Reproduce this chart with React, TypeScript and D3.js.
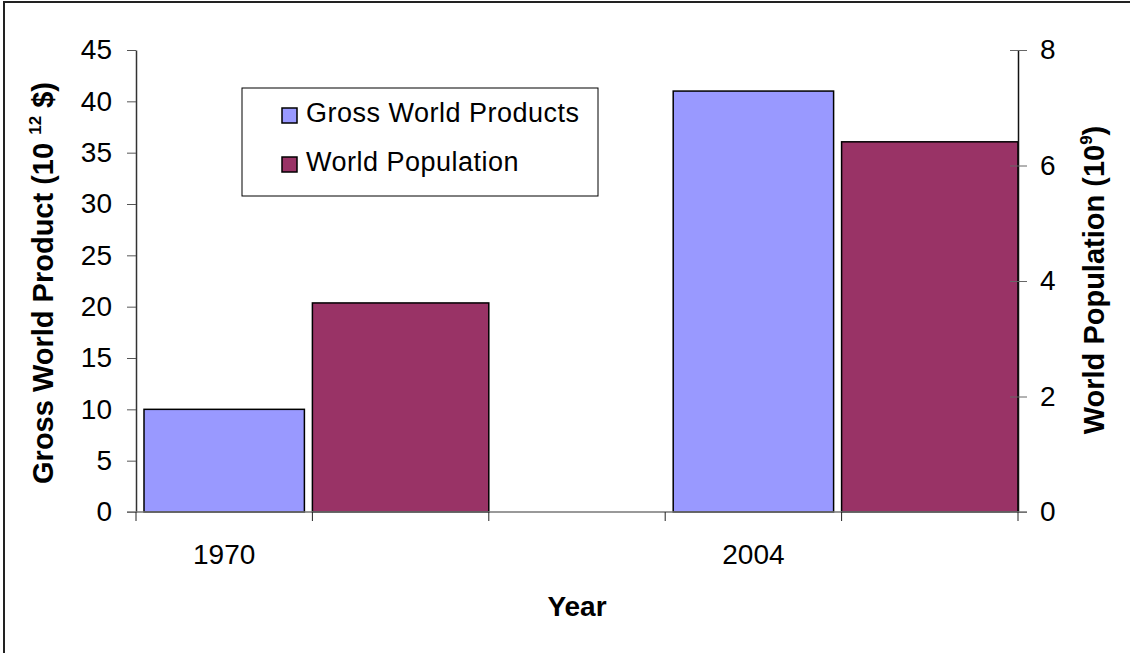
import React, { useEffect, useRef } from 'react';
import * as d3 from 'd3';

// values
const years = ['1970', '2004'];
const grossWorldProduct = [10, 41];
const worldPopulation = [3.62, 6.41];
const gwpTicks = [0, 5, 10, 15, 20, 25, 30, 35, 40, 45];
const popTicks = [0, 2, 4, 6, 8];
const legendLabels = ['Gross World Products', 'World Population'];
const colors = ['#9999FF', '#993366'];

export default function App() {
  const ref = useRef<SVGSVGElement | null>(null);

  useEffect(() => {
    const el = ref.current;
    if (!el) return;
    const svg = d3.select(el);
    svg.selectAll('*').remove();

    const width = 1130;
    const height = 653;
    const font = 'Arial, "Liberation Sans", sans-serif';
    const left = 136, right = 1018, top = 50, bottom = 512;

    // outer frame: only the top and left edges show in the picture
    svg.append('rect').attr('width', width).attr('height', height).attr('fill', '#fff');
    svg.append('path').attr('d', `M4,${height} V2 H${width}`)
      .attr('fill', 'none').attr('stroke', '#222').attr('stroke-width', 2);

    const y = d3.scaleLinear().domain([0, 45]).range([bottom, top]);
    const y2 = d3.scaleLinear().domain([0, 8]).range([bottom, top]);

    // every year gets three slots (gwp, population, gap), the last one no gap
    const slotKeys = years.flatMap((yr, i) =>
      i < years.length - 1 ? [`${yr}|gwp`, `${yr}|pop`, `${yr}|gap`] : [`${yr}|gwp`, `${yr}|pop`]);
    const x = d3.scaleBand().domain(slotKeys).range([left, right]).padding(0);
    const inset = 8;

    // bars
    years.forEach((yr, i) => {
      const gx = x(`${yr}|gwp`)!;
      svg.append('rect')
        .attr('x', gx + inset).attr('y', y(grossWorldProduct[i]))
        .attr('width', x.bandwidth() - 2 * inset).attr('height', bottom - y(grossWorldProduct[i]))
        .attr('fill', colors[0]).attr('stroke', '#000').attr('stroke-width', 1.5);
      const px = x(`${yr}|pop`)!;
      svg.append('rect')
        .attr('x', px).attr('y', y2(worldPopulation[i]))
        .attr('width', x.bandwidth()).attr('height', bottom - y2(worldPopulation[i]))
        .attr('fill', colors[1]).attr('stroke', '#000').attr('stroke-width', 1.5);
    });

    // left axis
    const la = svg.append('g').attr('transform', `translate(${left},0)`)
      .call(d3.axisLeft(y).tickValues(gwpTicks).tickSize(9).tickPadding(15).tickSizeOuter(0));
    la.select('.domain').attr('stroke', '#333').attr('stroke-width', 1.5);
    la.selectAll('.tick line').attr('stroke', '#555');
    la.selectAll('text').attr('font-family', font).attr('font-size', 28).attr('fill', '#000');

    // right axis, ticks cross the line
    const ra = svg.append('g').attr('transform', `translate(${right},0)`)
      .call(d3.axisRight(y2).tickValues(popTicks).tickSize(9).tickPadding(13).tickSizeOuter(0));
    ra.select('.domain').attr('stroke', '#111').attr('stroke-width', 1.5);
    ra.selectAll('.tick line').attr('x1', -8).attr('stroke', '#666');
    ra.selectAll('text').attr('font-family', font).attr('font-size', 28).attr('fill', '#000');

    // bottom axis
    svg.append('line').attr('x1', left - 9).attr('x2', right + 9)
      .attr('y1', bottom).attr('y2', bottom).attr('stroke', '#777').attr('stroke-width', 1.5);
    const bounds = [...slotKeys.map(k => x(k)!), right];
    svg.selectAll('.xtick').data(bounds).enter().append('line')
      .attr('x1', d => d).attr('x2', d => d).attr('y1', bottom).attr('y2', bottom + 9)
      .attr('stroke', '#222');
    svg.selectAll('.ylab').data(years).enter().append('text')
      .attr('x', d => x(`${d}|gwp`)! + x.bandwidth() / 2).attr('y', 564)
      .attr('text-anchor', 'middle').attr('font-family', font).attr('font-size', 28)
      .text(d => d);

    // axis titles
    svg.append('text').attr('x', 577).attr('y', 616).attr('text-anchor', 'middle')
      .attr('font-family', font).attr('font-size', 28).attr('font-weight', 'bold')
      .text('Year');

    const lt = svg.append('text').attr('transform', `translate(53,283) rotate(-90)`)
      .attr('text-anchor', 'middle').attr('font-family', font).attr('font-size', 29)
      .attr('font-weight', 'bold');
    lt.append('tspan').text('Gross World Product (10 ');
    lt.append('tspan').attr('font-size', 17).attr('dy', -12).text('12');
    lt.append('tspan').attr('dy', 12).text(' $)');

    const rt = svg.append('text').attr('transform', `translate(1104,280) rotate(-90)`)
      .attr('text-anchor', 'middle').attr('font-family', font).attr('font-size', 29)
      .attr('font-weight', 'bold');
    rt.append('tspan').text('World Population (10');
    rt.append('tspan').attr('font-size', 17).attr('dy', -12).text('9');
    rt.append('tspan').attr('dy', 12).text(')');

    // legend
    const lg = svg.append('g').attr('transform', 'translate(242,88)');
    lg.append('rect').attr('width', 356).attr('height', 108)
      .attr('fill', '#fff').attr('stroke', '#000').attr('stroke-width', 1);
    legendLabels.forEach((lab, i) => {
      const row = lg.append('g').attr('transform', `translate(40,${20 + i * 49})`);
      row.append('rect').attr('width', 15).attr('height', 15)
        .attr('fill', colors[i]).attr('stroke', '#000').attr('stroke-width', 1.5);
      row.append('text').attr('x', 24).attr('y', 14).attr('font-family', font)
        .attr('font-size', 27).attr('letter-spacing', 0.5).text(lab);
    });
  }, []);

  return (
    <svg ref={ref} width={1130} height={653}
      style={{ position: 'absolute', left: 0, top: 0, display: 'block' }} />
  );
}
